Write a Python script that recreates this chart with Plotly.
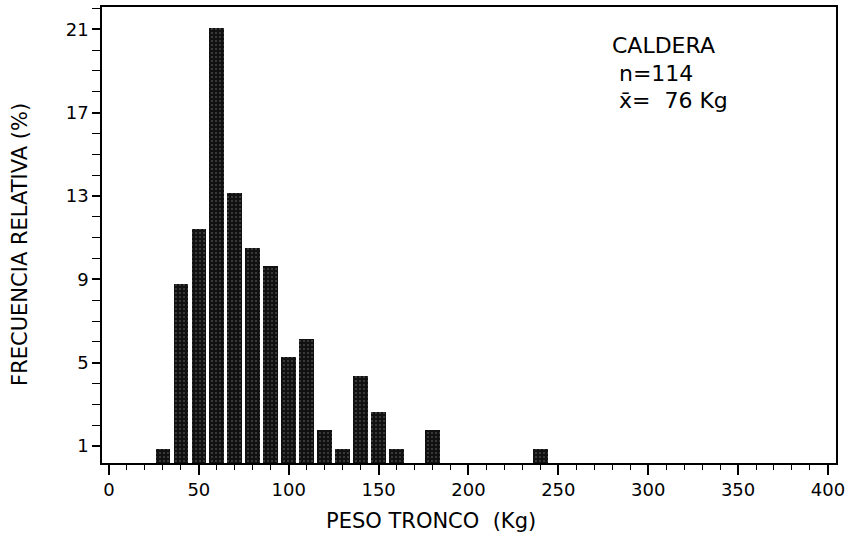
import plotly.graph_objects as go

# Data (bin centres in Kg, counts out of n=114)
peso_kg = [30, 40, 50, 60, 70, 80, 90, 100, 110, 120, 130, 140, 150, 160, 180, 240]
conteos = [1, 10, 13, 24, 15, 12, 11, 6, 7, 2, 1, 5, 3, 1, 2, 1]
n_total = 114
frecuencia_pct = [c / n_total * 100 for c in conteos]

y_tickvals = [1, 5, 9, 13, 17, 21]
x_tickvals = [0, 50, 100, 150, 200, 250, 300, 350, 400]

FONT = "DejaVu Sans, sans-serif"

fig = go.Figure()
fig.add_trace(go.Bar(
    x=peso_kg,
    y=frecuencia_pct,
    width=8.2,
    marker=dict(
        color="#111111",
        line=dict(width=0),
        pattern=dict(shape=".", fgcolor="#7a7a7a", size=4, solidity=0.2, fillmode="overlay"),
    ),
    showlegend=False,
))

axis_common = dict(
    showline=True, linecolor="black", linewidth=1.6, mirror=True,
    showgrid=False, zeroline=False,
    ticks="outside", tickcolor="black", tickwidth=1.5,
    tickfont=dict(family=FONT, size=18, color="black"),
)

fig.update_xaxes(
    range=[-3.9, 404.5],
    tickmode="array", tickvals=x_tickvals, ticktext=[str(v) for v in x_tickvals],
    ticklen=10,
    minor=dict(dtick=10, tick0=0, ticklen=5, ticks="outside", tickcolor="black", tickwidth=1.3),
    **axis_common,
)
fig.update_yaxes(
    range=[0.19, 22.07],
    tickmode="array", tickvals=y_tickvals, ticktext=[str(v) for v in y_tickvals],
    ticklen=8,
    minor=dict(dtick=1, tick0=0, ticklen=8, ticks="outside", tickcolor="black", tickwidth=1.3),
    **axis_common,
)

fig.add_annotation(x=179, y=-0.128, xref="x", yref="paper", text="PESO TRONCO  (Kg)",
                   showarrow=False, yanchor="middle",
                   font=dict(family=FONT, size=21, color="black"))
fig.add_annotation(x=-0.112, y=0.48, xref="paper", yref="paper", text="FRECUENCIA RELATIVA (%)",
                   showarrow=False, textangle=-90, xanchor="center", yanchor="middle",
                   font=dict(family=FONT, size=21, color="black"))

for txt, ypix in [("CALDERA", 44), (" n=114", 72), (" x̄=  76 Kg", 99)]:
    fig.add_annotation(x=279, y=1 - (ypix - 5) / 458, xref="x", yref="paper", text=txt,
                       showarrow=False, xanchor="left", yanchor="middle",
                       font=dict(family=FONT, size=22, color="black"))

fig.update_layout(
    width=850, height=548,
    margin=dict(l=102, r=13, t=5, b=85),
    plot_bgcolor="white", paper_bgcolor="white",
    bargap=0,
)

fig.write_html("out.html")
